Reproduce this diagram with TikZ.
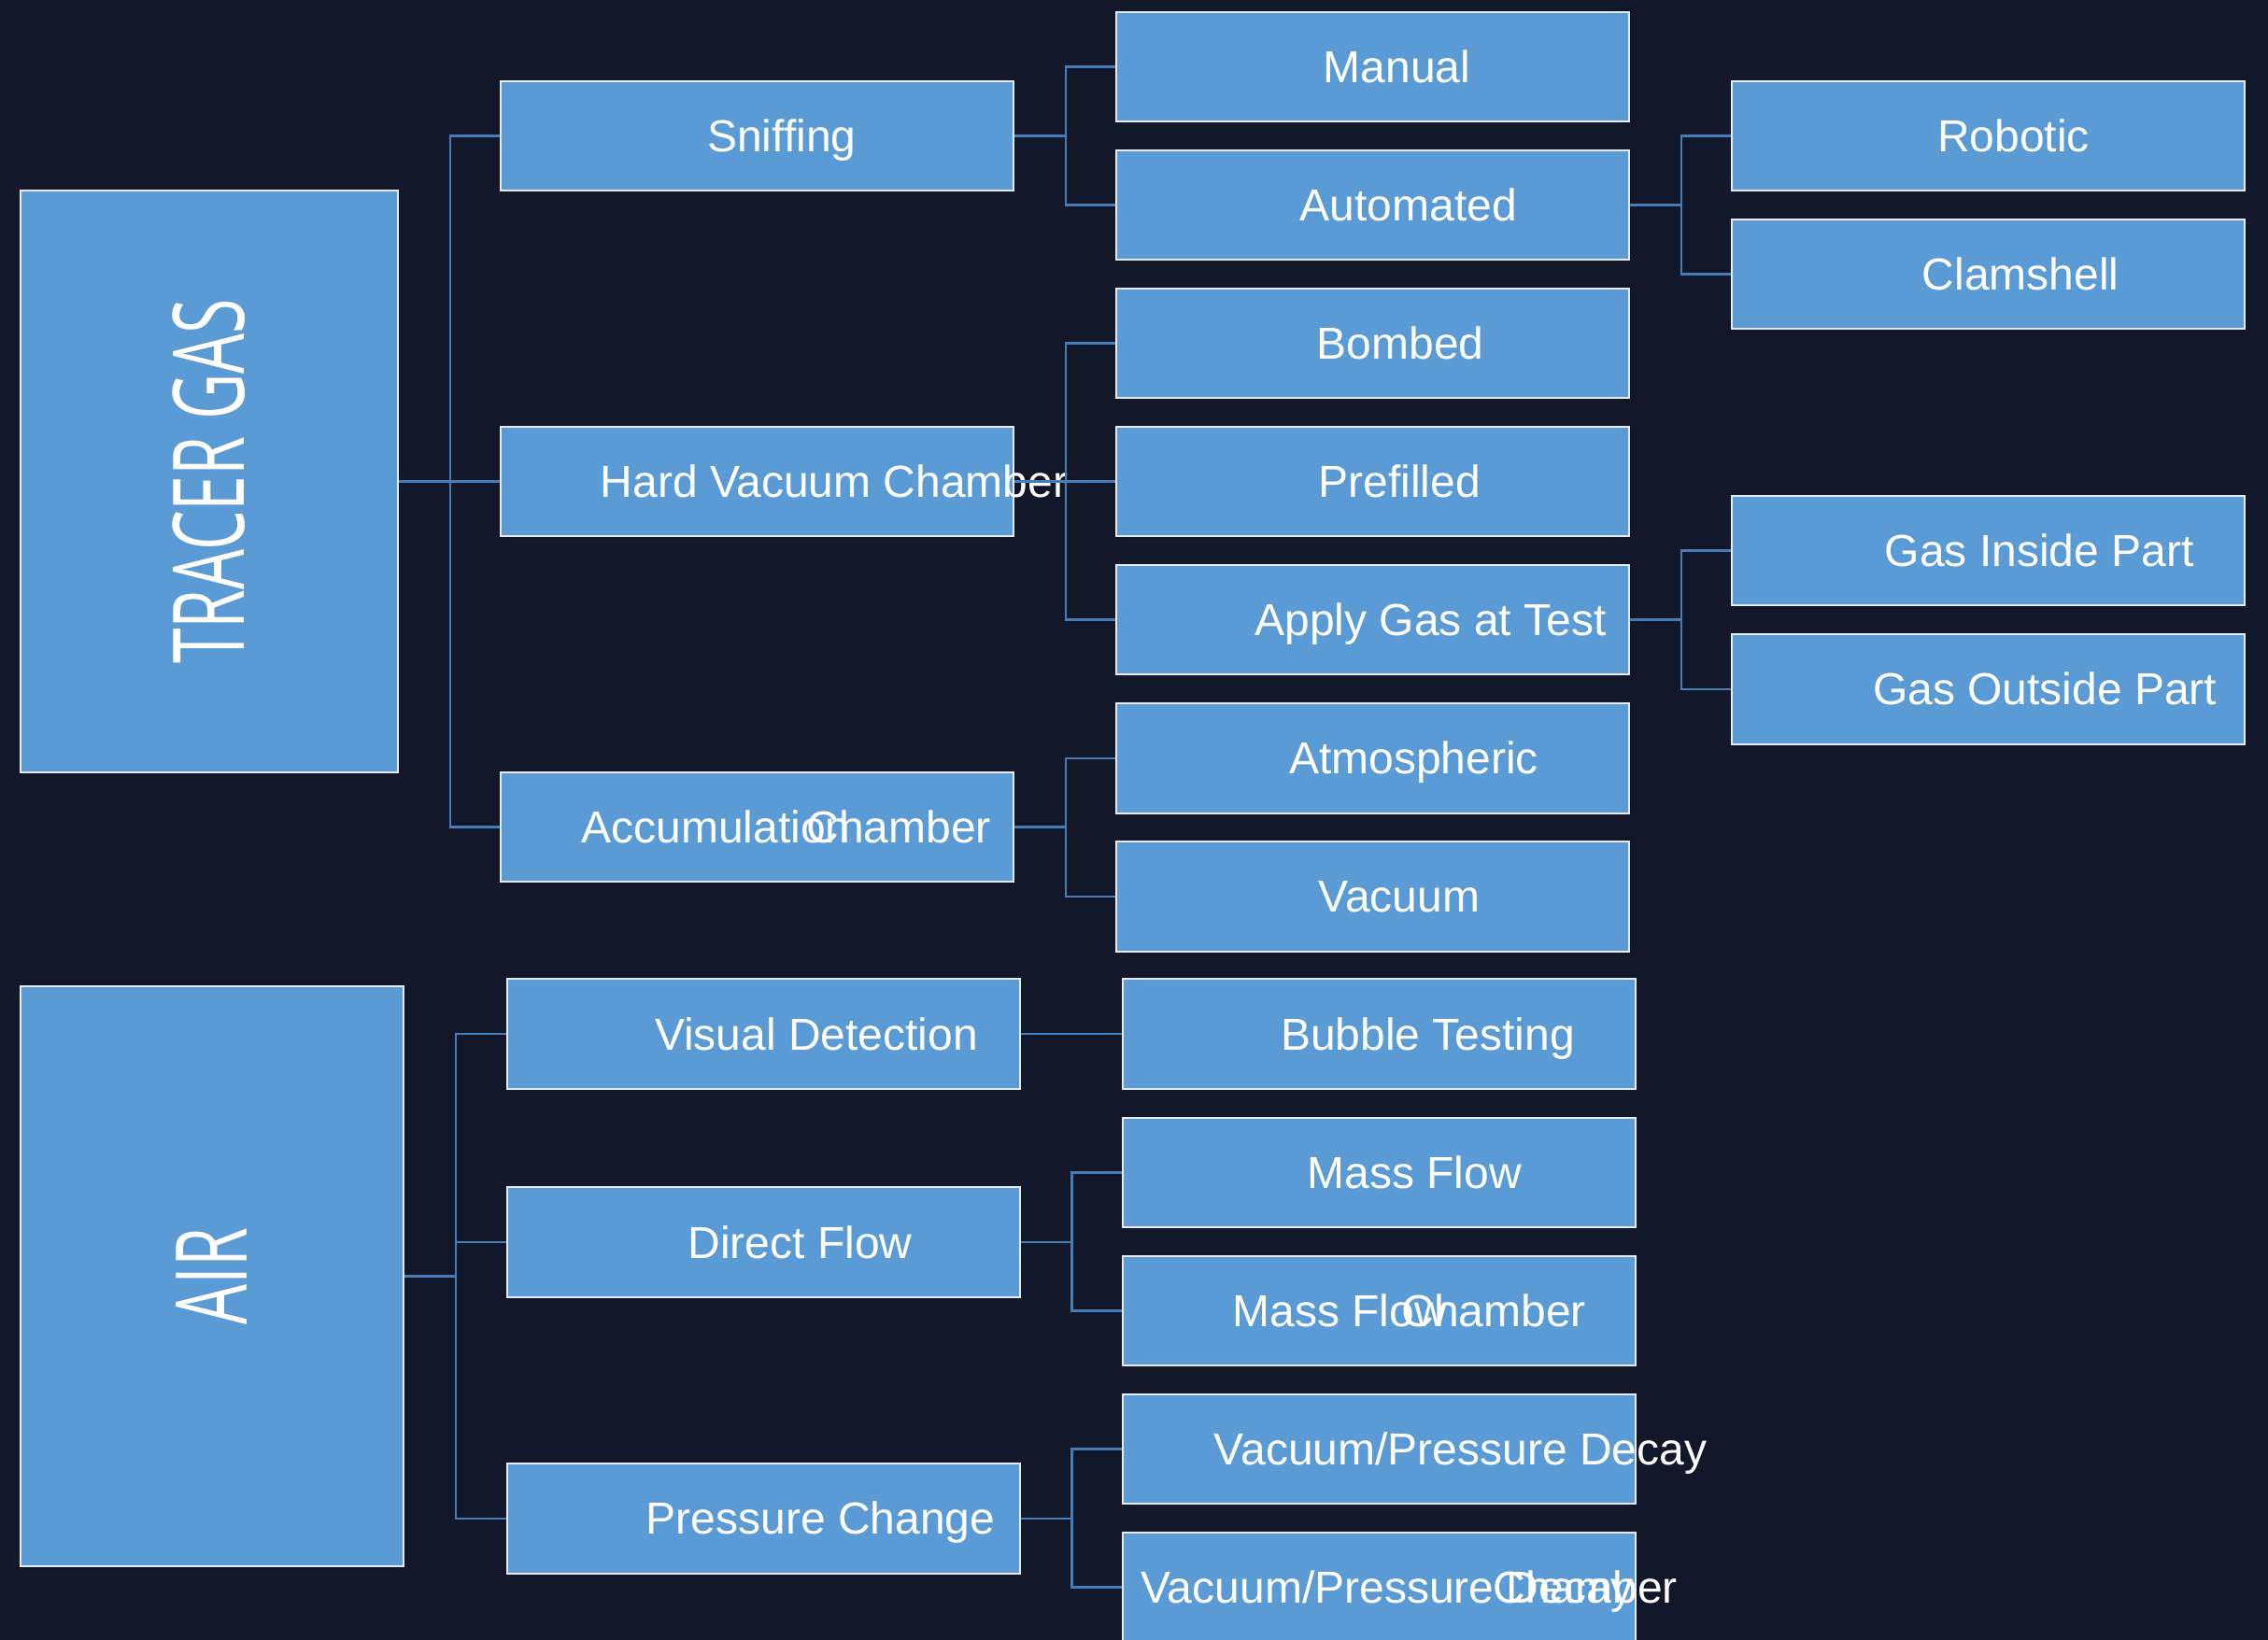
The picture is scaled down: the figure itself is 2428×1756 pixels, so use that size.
\documentclass[tikz,border=0pt]{standalone}
\usepackage{fontspec}
\setmainfont{Liberation Sans}
\newfontfamily\condfont[FakeStretch=0.64]{Open Sans}
\usetikzlibrary{positioning}
\definecolor{mybg}{RGB}{19,23,42}
\definecolor{myblue}{RGB}{91,155,213}
\definecolor{mylink}{RGB}{70,125,185}
\definecolor{myedge}{RGB}{232,234,242}
\tikzstyle{mybox}=[rectangle, draw=myedge, line width=2pt, fill=myblue, text=white, inner sep=0pt]
\tikzstyle{root}=[mybox, font=\condfont\fontsize{106}{110}\selectfont]
\tikzstyle{branch}=[mybox, minimum width=549pt, minimum height=117.5pt, text height=44pt, text depth=10pt, font=\fontsize{48}{55}\selectfont]
\tikzstyle{connect}=[line width=2.5pt, mylink]

% label text starts a third of its width left of the box centre
\newlength{\lblwd}
\newcommand{\shifted}[1]{\settowidth{\lblwd}{#1}\makebox[0pt][l]{\hspace*{-0.335\lblwd}#1}}
% two lines printed on top of each other
\newcommand{\twolines}[4]{\makebox[0pt][l]{\hspace*{#1pt}#2}\makebox[0pt][l]{\hspace*{#3pt}#4}}

\begin{document}
\begin{tikzpicture}[
    x=1pt, y=-1pt,
    node distance=148.1pt,
    on grid]

\useasboundingbox (0,0) rectangle (2428,1756);
\fill[mybg] (0,0) rectangle (2428,1756);
\clip (0,0) rectangle (2428,1756);

% Tracer gas
\node[root, minimum width=404pt, minimum height=623pt] (tracer) at (224,515.6) {\rotatebox{90}{TRACER GAS}};

\node[branch] (hvc) at (810.5,515.6) {\shifted{Hard Vacuum Chamber}};
\node[branch] (sniff) [above=370pt of hvc] {\shifted{Sniffing}};
\node[branch] (accum) [below=370pt of hvc] {\twolines{-188}{Accumulation}{53}{Chamber}};

\node[branch] (prefill) at (1469.5,515.6) {\shifted{Prefilled}};
\node[branch] (bombed) [above=of prefill] {\shifted{Bombed}};
\node[branch] (auto) [above=of bombed] {\shifted{Automated}};
\node[branch] (manual) [above=of auto] {\shifted{Manual}};
\node[branch] (apply) [below=of prefill] {\shifted{Apply Gas at Test}};
\node[branch] (atmos) [below=of apply] {\shifted{Atmospheric}};
\node[branch] (vac) [below=of atmos] {\shifted{Vacuum}};

\node[branch] (robotic) at (2128.5,145.6) {\shifted{Robotic}};
\node[branch] (clam) [below=of robotic] {\shifted{Clamshell}};
\node[branch] (gasin) at (2128.5,589.7) {\shifted{Gas Inside Part}};
\node[branch] (gasout) [below=of gasin] {\shifted{Gas Outside Part}};

% Air
\node[root, minimum width=410pt, minimum height=621pt] (air) at (227,1366.5) {\rotatebox{90}{AIR}};

\node[branch] (visual) at (817,1107.2) {\shifted{Visual Detection}};
\node[branch] (direct) at (817,1330.2) {\shifted{Direct Flow}};
\node[branch] (pressure) at (817,1625.9) {\shifted{Pressure Change}};

\node[branch] (bubble) at (1476.5,1107.2) {\shifted{Bubble Testing}};
\node[branch] (mflow) [below=of bubble] {\shifted{Mass Flow}};
\node[branch] (mflowch) [below=of mflow] {\twolines{-157}{Mass Flow}{24}{Chamber}};
\node[branch] (decay) [below=of mflowch] {\shifted{Vacuum/Pressure Decay}};
\node[branch] (decaych) [below=of decay] {\twolines{-255}{Vacuum/Pressure Decay}{122}{Chamber}};

\begin{scope}[connect]
    \foreach \child in {sniff,hvc,accum}
        \draw (tracer.east) -- ++(55,0) |- (\child.west);
    \foreach \child in {manual,auto}
        \draw (sniff.east) -- ++(55,0) |- (\child.west);
    \foreach \child in {bombed,prefill,apply}
        \draw (hvc.east) -- ++(55,0) |- (\child.west);
    \foreach \child in {atmos,vac}
        \draw (accum.east) -- ++(55,0) |- (\child.west);
    \foreach \child in {robotic,clam}
        \draw (auto.east) -- ++(55,0) |- (\child.west);
    \foreach \child in {gasin,gasout}
        \draw (apply.east) -- ++(55,0) |- (\child.west);

    \foreach \child in {visual,direct,pressure}
        \draw (air.east) -- ++(55,0) |- (\child.west);
    \draw (visual) -- (bubble);
    \foreach \child in {mflow,mflowch}
        \draw (direct.east) -- ++(55,0) |- (\child.west);
    \foreach \child in {decay,decaych}
        \draw (pressure.east) -- ++(55,0) |- (\child.west);
\end{scope}

\end{tikzpicture}
\end{document}
